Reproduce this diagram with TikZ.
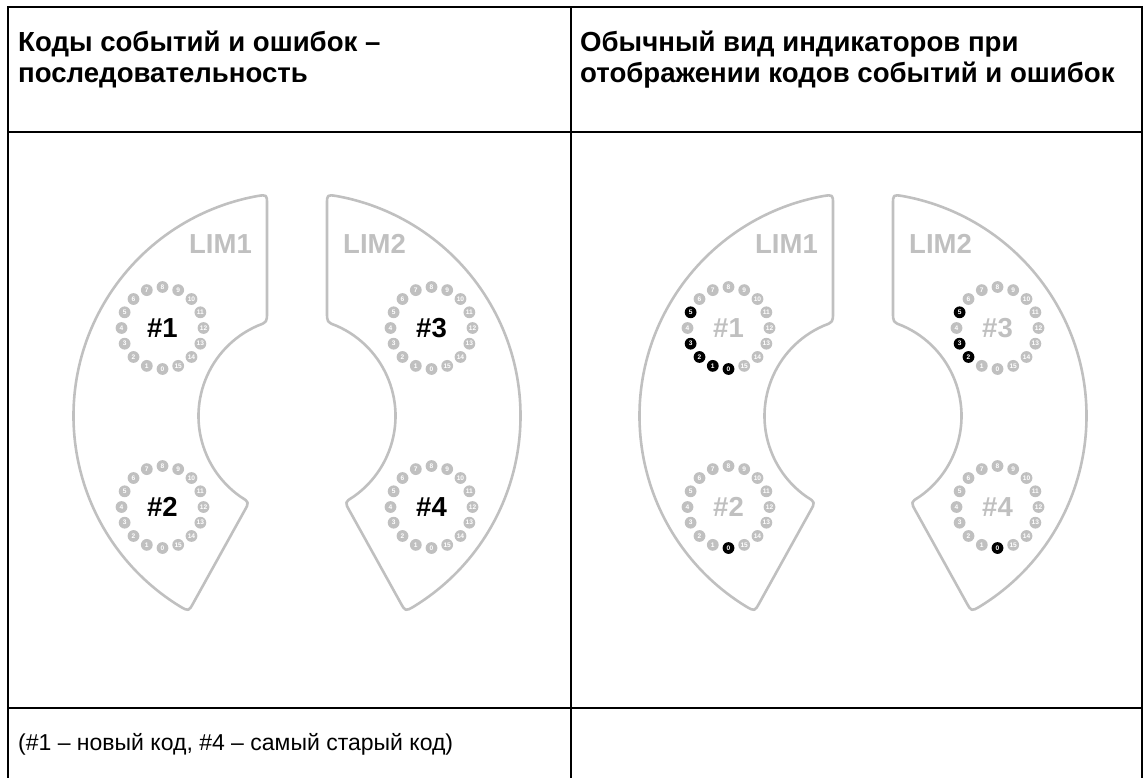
\documentclass[tikz,border=0pt]{standalone}
\usepackage{fontspec}
\setmainfont{Liberation Sans}
\usetikzlibrary{calc}
\definecolor{limgray}{RGB}{192,192,192}
\tikzset{
  tabline/.style={line width=2pt, black, line cap=rect},
  limline/.style={line width=2.6pt, limgray, line join=round},
  hdr/.style={inner sep=0pt, font=\fontsize{27.6}{31}\selectfont\bfseries},
  foot/.style={inner sep=0pt, font=\fontsize{23}{27}\selectfont},
  limlabel/.style={inner sep=0pt, text=limgray, font=\fontsize{27.5}{30}\selectfont\bfseries},
  hashlabel/.style={inner sep=0pt, font=\fontsize{27.5}{30}\selectfont\bfseries},
  led/.style={circle, inner sep=0pt, minimum size=11.8pt, text=white, font=\fontsize{6.6}{7}\selectfont\bfseries},
}
\makeatletter
\newcommand\ledring[4]{%
  \foreach \i in {0,...,15}{%
    \edef\tmp{\noexpand\in@{,\i,}{,#4,}}\tmp
    \ifin@\def\ledfill{black}\else\def\ledfill{limgray}\fi
    \node[led, fill=\ledfill] (#1-\i) at ($(#2,#3)+({90+22.5*\i}:41)$) {\i};
  }%
}
\makeatother
\newcommand\limshape[3]{%
  \begin{scope}[shift={(#1,#2)}, xscale=#3]
    \draw[limline] (259.73:223.5) .. controls (-30,-221.48) .. (-30,-211.5)
      -- (-30,-104) .. controls (-30,-93.81) .. (246.45:98.5)
      arc[start angle=246.45, end angle=124.8, radius=98.5]
      .. controls (119:98.5) .. (119:108.5)
      -- (119:213.5) .. controls (119:223.5) .. (121.56:223.5)
      arc[start angle=121.56, end angle=259.73, radius=223.5] -- cycle;
  \end{scope}%
}
\begin{document}
\begin{tikzpicture}[x=1pt, y=1pt, yscale=-1]
\useasboundingbox (0,0) rectangle (1143,778);
% table
\draw[tabline] (8,778) -- (8,7.5) -- (1142,7.5) -- (1142,778);
\draw[tabline] (571,7.5) -- (571,778);
\draw[tabline] (8,132) -- (1142,132);
\draw[tabline] (8,708) -- (1142,708);
% header texts
\node[hdr, anchor=base west] (h1a) at (18,52) {Коды событий и ошибок –};
\node[hdr, anchor=base west] (h1b) at (18,83) {последовательность};
\node[hdr, anchor=base west] (h2a) at (580,52) {Обычный вид индикаторов при};
\node[hdr, anchor=base west] (h2b) at (580,83) {отображении кодов событий и ошибок};
\node[foot, anchor=base west] (ft) at (18,750) {(\#1 – новый код, \#4 – самый старый код)};
% left panel
\limshape{297}{416}{1}
\limshape{297}{416}{-1}
\node[limlabel, anchor=base east] (la1) at (252,253) {LIM1};
\node[limlabel, anchor=base west] (la2) at (343,253) {LIM2};
\ledring{A1}{162.5}{328}{}
\ledring{A2}{162.5}{507}{}
\ledring{A3}{431.5}{328}{}
\ledring{A4}{431.5}{507}{}
\node[hashlabel] (ha1) at (162.5,328) {\#1};
\node[hashlabel] (ha2) at (162.5,507) {\#2};
\node[hashlabel] (ha3) at (431.5,328) {\#3};
\node[hashlabel] (ha4) at (431.5,507) {\#4};
% right panel
\limshape{863}{416}{1}
\limshape{863}{416}{-1}
\node[limlabel, anchor=base east] (lb1) at (818,253) {LIM1};
\node[limlabel, anchor=base west] (lb2) at (909,253) {LIM2};
\ledring{B1}{728.5}{328}{0,1,2,3,5}
\ledring{B2}{728.5}{507}{0}
\ledring{B3}{997.5}{328}{2,3,5}
\ledring{B4}{997.5}{507}{0}
\node[hashlabel, text=limgray] (hb1) at (728.5,328) {\#1};
\node[hashlabel, text=limgray] (hb2) at (728.5,507) {\#2};
\node[hashlabel, text=limgray] (hb3) at (997.5,328) {\#3};
\node[hashlabel, text=limgray] (hb4) at (997.5,507) {\#4};
\end{tikzpicture}
\end{document}
